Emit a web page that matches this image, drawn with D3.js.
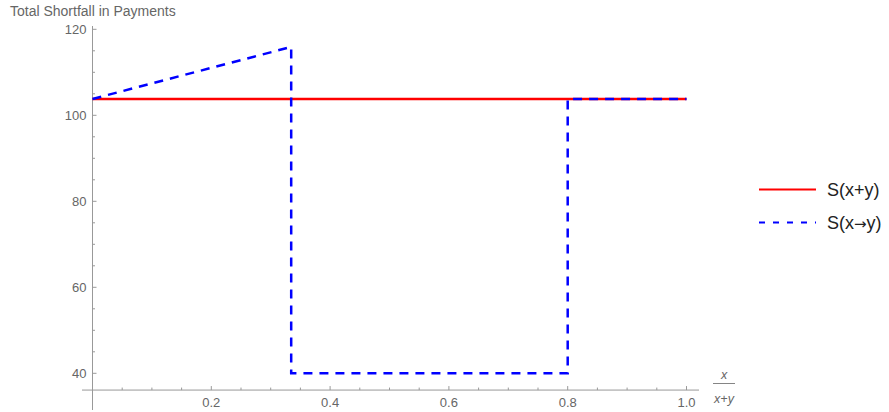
<!DOCTYPE html>
<html>
<head>
<meta charset="utf-8">
<script src="https://cdn.jsdelivr.net/npm/d3@7"></script>
<style>
  body { margin: 0; background: #fff; }
  text { font-family: "Liberation Sans", Arial, sans-serif; }
</style>
</head>
<body>
<div id="chart"></div>
<script>
// values
const sumX = [0, 1.0];
const sumY = [103.8, 103.8];
const splitX = [0, 0.3345, 0.3345, 0.8, 0.8, 1.0];
const splitY = [103.8, 115.9, 40, 40, 103.8, 103.8];
const xTicks = [0.2, 0.4, 0.6, 0.8, 1.0];
const yTicks = [40, 60, 80, 100, 120];
const legendLabels = [['S(x', '+', 'y)'], ['S(x', '\u2192', 'y)']];

const width = 889, height = 412;
const svg = d3.select('#chart').append('svg')
    .attr('width', width)
    .attr('height', height);

const x = d3.scaleLinear().domain([0, 1]).range([92.5, 686.5]);
const y = d3.scaleLinear().domain([40, 120]).range([373.3, 29.3]);
const axisColor = '#999';
const labelColor = '#666';

// axis lines (mathematica-style, axis origin at x=0, y≈36)
const yBase = y(36.1);
svg.append('line')
    .attr('x1', 82).attr('x2', 699)
    .attr('y1', yBase).attr('y2', yBase)
    .attr('stroke', axisColor).attr('stroke-width', 1);
svg.append('line')
    .attr('x1', x(0)).attr('x2', x(0))
    .attr('y1', 26).attr('y2', 410)
    .attr('stroke', axisColor).attr('stroke-width', 1);

// minor + major ticks, pointing into the plot
const xMinor = d3.range(0.05, 1.001, 0.05);
svg.append('g').selectAll('line')
    .data(xMinor)
    .join('line')
    .attr('x1', d => x(d)).attr('x2', d => x(d))
    .attr('y1', yBase)
    .attr('y2', d => xTicks.some(t => Math.abs(t - d) < 1e-6) ? yBase - 4 : yBase - 2.5)
    .attr('stroke', axisColor);

const yMinor = d3.range(40, 120.001, 5);
svg.append('g').selectAll('line')
    .data(yMinor)
    .join('line')
    .attr('x1', x(0))
    .attr('x2', d => yTicks.includes(d) ? x(0) + 4 : x(0) + 2.5)
    .attr('y1', d => y(d)).attr('y2', d => y(d))
    .attr('stroke', axisColor);

svg.append('g').selectAll('text')
    .data(xTicks)
    .join('text')
    .attr('x', d => x(d))
    .attr('y', yBase + 17)
    .attr('text-anchor', 'middle')
    .attr('fill', labelColor)
    .style('font-size', '13px')
    .text(d => d3.format('.1f')(d));

svg.append('g').selectAll('text')
    .data(yTicks)
    .join('text')
    .attr('x', x(0) - 6)
    .attr('y', d => y(d))
    .attr('dy', '0.35em')
    .attr('text-anchor', 'end')
    .attr('fill', labelColor)
    .style('font-size', '13px')
    .text(d => d);

// title
svg.append('text')
    .attr('x', 10).attr('y', 16)
    .attr('fill', labelColor)
    .style('font-size', '14px')
    .text('Total Shortfall in Payments');

// x axis label as a fraction
const fx = 724;
svg.append('text')
    .attr('x', fx).attr('y', 379)
    .attr('text-anchor', 'middle')
    .attr('fill', labelColor)
    .style('font-size', '12.5px').style('font-style', 'italic')
    .text('x');
svg.append('line')
    .attr('x1', fx - 11).attr('x2', fx + 11)
    .attr('y1', 383.5).attr('y2', 383.5)
    .attr('stroke', labelColor).attr('stroke-width', 0.8);
svg.append('text')
    .attr('x', fx).attr('y', 403)
    .attr('text-anchor', 'middle')
    .attr('fill', labelColor)
    .style('font-size', '12.5px').style('font-style', 'italic')
    .text('x+y');

// series
const line = d3.line()
    .x(d => x(d[0]))
    .y(d => y(d[1]));

svg.append('path')
    .datum(d3.zip(sumX, sumY))
    .attr('d', line)
    .attr('fill', 'none')
    .attr('stroke', '#ff0000')
    .attr('stroke-width', 2.5);

svg.append('path')
    .datum(d3.zip(splitX, splitY))
    .attr('d', line)
    .attr('fill', 'none')
    .attr('stroke', '#0000ff')
    .attr('stroke-width', 2.5)
    .attr('stroke-dasharray', '9,7');

// legend
const legend = svg.append('g')
    .attr('transform', 'translate(759,189.5)');
const legendItem = legend.selectAll('g')
    .data(legendLabels)
    .join('g')
    .attr('transform', (d, i) => `translate(0, ${i * 33})`);
legendItem.append('line')
    .attr('x1', 0).attr('x2', 57)
    .attr('stroke', (d, i) => i === 0 ? '#ff0000' : '#0000ff')
    .attr('stroke-width', 2)
    .attr('stroke-dasharray', (d, i) => i === 0 ? null : '6,8');
const legendText = legendItem.append('text')
    .attr('x', 68)
    .attr('dy', '0.35em')
    .attr('fill', '#222')
    .style('font-size', '18px');
legendText.append('tspan').text(d => d[0]);
legendText.append('tspan')
    .style('font-family', (d, i) => i === 1 ? '"DejaVu Sans", sans-serif' : null)
    .style('font-size', (d, i) => i === 1 ? '15px' : null)
    .text(d => d[1]);
legendText.append('tspan').text(d => d[2]);
</script>
</body>
</html>
